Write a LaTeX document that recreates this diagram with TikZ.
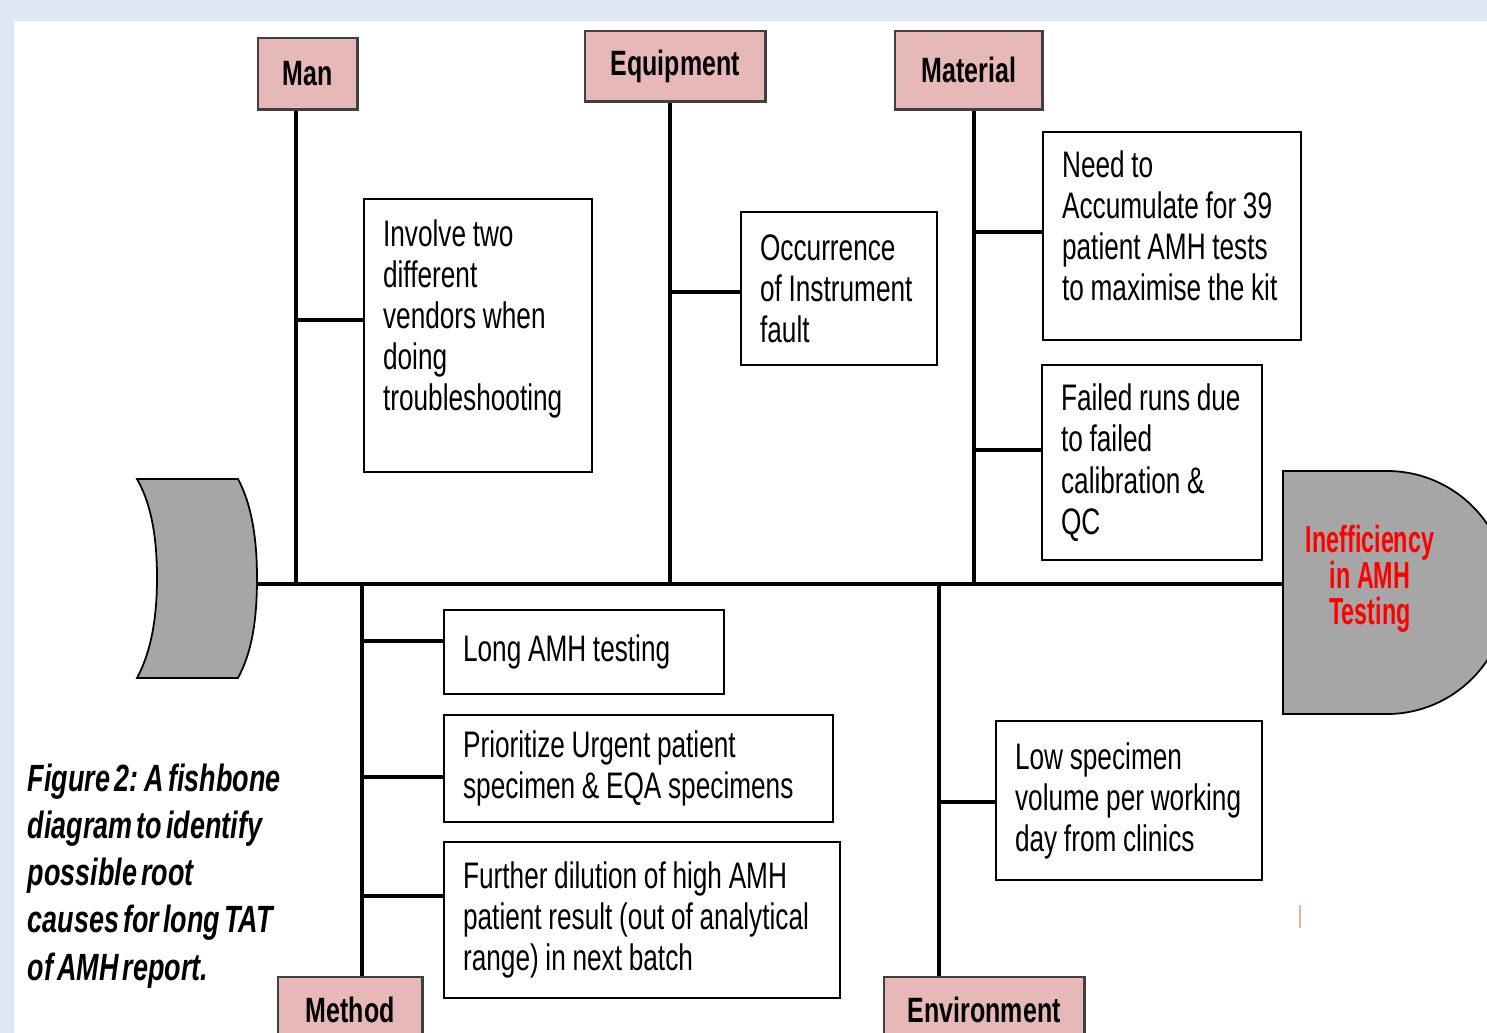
\documentclass[tikz,border=0pt]{standalone}
\usepackage{fontspec}
\setmainfont{Liberation Sans}[FakeStretch=0.71, WordSpace=0.55]
\newfontfamily\headfont{Liberation Sans}[FakeStretch=0.62]
\usepackage{tikz}
\usetikzlibrary{positioning}
\hyphenpenalty=10000

\definecolor{pagebg}{RGB}{222,232,244}
\definecolor{catpink}{RGB}{230,184,183}
\definecolor{fishgray}{RGB}{166,166,166}
\definecolor{strayline}{RGB}{225,185,150}

\begin{document}
\begin{tikzpicture}[x=0.01cm, y=-0.01cm,
    catbox/.style={draw=black!75, fill=catpink, line width=0.7pt, anchor=north west,
        inner sep=0pt, font=\fontsize{10}{12}\selectfont\bfseries},
    causebox/.style={draw=black, fill=white, line width=0.6pt, anchor=north west,
        align=left, inner xsep=0.19cm, inner ysep=0pt,
        font=\fontsize{10.5}{11.7}\selectfont,
        execute at begin node={\spaceskip=1.9pt plus 1pt\xspaceskip=1.9pt plus 1pt}},
    spine/.style={line width=1.2pt},
    bone/.style={line width=1pt},
    fishpart/.style={draw=black, fill=fishgray, line width=0.5pt}]

    % Page and frame
    \useasboundingbox (0,0) rectangle (1487,1033);
    \clip (0,0) rectangle (1487,1033);
    \fill[pagebg] (0,0) rectangle (1487,1033);
    \fill[white] (14,21) rectangle (1487,1033);

    % Tail of the fish
    \draw[fishpart] (137,479) -- (238,479)
        .. controls (252,505) and (257,540) .. (257,578)
        .. controls (257,620) and (252,652) .. (238,678)
        -- (137,678)
        .. controls (152,650) and (157,615) .. (157,578)
        .. controls (157,540) and (152,505) .. (137,479) -- cycle;

    % Head of the fish
    \draw[fishpart] (1283,471) -- (1387,471)
        .. controls (1454,471) and (1508,525) .. (1508,592)
        .. controls (1508,659) and (1454,714) .. (1387,714)
        -- (1283,714) -- cycle;
    \node[font=\headfont\fontsize{10.7}{10.25}\selectfont\bfseries, text=red, align=center] (effect) at (1370,579) {Inefficiency\\in AMH\\Testing};

    % Define coordinates
    \coordinate (tail) at (257,584);
    \coordinate (headin) at (1283,584);
    \coordinate (j-man) at (296,584);
    \coordinate (j-equip) at (670,584);
    \coordinate (j-mat) at (974,584);
    \coordinate (j-method) at (362,584);
    \coordinate (j-env) at (939,584);

    % Category boxes
    \node[catbox, minimum width=0.99cm, minimum height=0.71cm] (man) at (257,37) {Man};
    \node[catbox, minimum width=1.80cm, minimum height=0.70cm] (equip) at (584,30) {Equipment};
    \node[catbox, minimum width=1.47cm, minimum height=0.78cm] (mat) at (894,30) {Material};
    \node[catbox, minimum width=1.44cm, minimum height=0.66cm] (method) at (277,976) {Method};
    \node[catbox, minimum width=2.00cm, minimum height=0.66cm] (env) at (883,976) {Environment};

    % Cause boxes
    \node[causebox, text width=1.90cm, minimum height=2.73cm] (involve) at (363,198)
        {Involve two\\different\\vendors when\\doing\\troubleshooting\\\mbox{}};
    \node[causebox, text width=1.58cm, minimum height=1.53cm] (fault) at (740,211)
        {Occurrence\\of Instrument\\fault};
    \node[causebox, text width=2.20cm, minimum height=2.08cm] (accum) at (1042,131)
        {Need to\\Accumulate for 39\\patient AMH tests\\to maximise the kit\\[-0.2cm]\mbox{}};
    \node[causebox, text width=1.82cm, minimum height=1.95cm] (calib) at (1041,364)
        {Failed runs due\\to failed\\calibration \&\\QC};
    \node[causebox, text width=2.42cm, minimum height=0.84cm] (long) at (443,609)
        {Long AMH testing};
    \node[causebox, text width=3.51cm, minimum height=1.07cm] (urgent) at (443,714)
        {Prioritize Urgent patient\\specimen \& EQA specimens};
    \node[causebox, text width=3.58cm, minimum height=1.56cm] (dilution) at (443,841)
        {Further dilution of high AMH\\patient result (out of analytical\\range) in next batch};
    \node[causebox, text width=2.28cm, minimum height=1.59cm] (volume) at (995,720)
        {Low specimen\\volume per working\\day from clinics};

    % Spine and main bones
    \draw[spine] (tail) -- (headin);
    \draw[bone] (j-man) -- (j-man |- man.south);
    \draw[bone] (j-equip) -- (j-equip |- equip.south);
    \draw[bone] (j-mat) -- (j-mat |- mat.south);
    \draw[bone] (j-method) -- (j-method |- method.north);
    \draw[bone] (j-env) -- (j-env |- env.north);

    % Small bones
    \coordinate (b-involve) at (296,320);
    \coordinate (b-fault) at (670,292);
    \coordinate (b-accum) at (974,232);
    \coordinate (b-calib) at (974,450);
    \coordinate (b-long) at (362,641);
    \coordinate (b-urgent) at (362,777);
    \coordinate (b-dilution) at (362,896);
    \coordinate (b-volume) at (939,802);
    \foreach \b/\n in {b-involve/involve, b-fault/fault, b-accum/accum, b-calib/calib,
        b-long/long, b-urgent/urgent, b-dilution/dilution, b-volume/volume}
        \draw[bone] (\b) -- (\b -| \n.west);

    % Caption
    \node[anchor=west, align=left, inner sep=0pt,
        font=\fontsize{10.8}{13.4}\selectfont\bfseries\itshape] (caption) at (27,876)
        {Figure 2: A fishbone\\diagram to identify\\possible root\\causes for long TAT\\of AMH report.};

    % Stray mark
    \draw[strayline, line width=0.5pt] (1300,905) -- (1300,928);

\end{tikzpicture}
\end{document}
